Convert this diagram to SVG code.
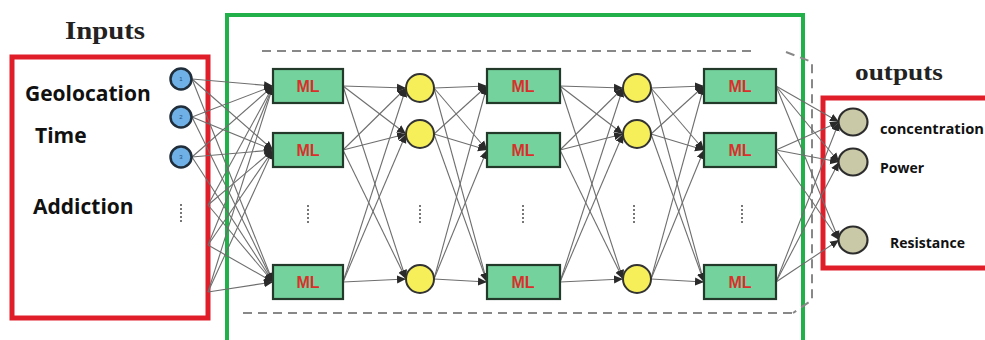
<svg xmlns="http://www.w3.org/2000/svg" width="985" height="340" viewBox="0 0 985 340">
<style>
.title{font-family:"Liberation Serif","DejaVu Serif",serif;font-weight:bold;fill:#222;}
.lbl{font-family:"Open Sans","Liberation Sans",sans-serif;font-weight:bold;fill:#111;}
.ml rect{fill:#74d29c;stroke:#233a2b;stroke-width:2.2;}
.ml text{font-family:"Liberation Sans",Arial,sans-serif;font-weight:bold;font-size:16px;fill:#d9302c;text-anchor:middle;}
.hid{fill:#f6ef5a;stroke:#333;stroke-width:2;}
.inp{fill:#6fb0e6;stroke:#1f2e3a;stroke-width:2.5;}
.inp-t{font-family:"Liberation Sans",sans-serif;font-size:6px;fill:#1f4f80;text-anchor:middle;}
.out{fill:#c9c9a8;stroke:#2c2c2c;stroke-width:2.2;}
.box-red{fill:none;stroke:#e01e2a;stroke-width:5;}
.box-green{fill:none;stroke:#22b04a;stroke-width:4;}
.dash{fill:none;stroke:#888;stroke-width:2;stroke-dasharray:9 6;}
.dots{stroke:#777;stroke-width:2;stroke-dasharray:2 2;}
#connectors line{stroke:#6e6e6e;stroke-width:1.1;marker-end:url(#arr);}
</style>
<defs>
<marker id="arr" markerUnits="userSpaceOnUse" markerWidth="10" markerHeight="10" refX="9" refY="5" orient="auto">
<path d="M0,1 L9,5 L0,9 Z" fill="#2a2a2a"/>
</marker>
</defs>
<rect width="985" height="340" fill="#ffffff"/>

<g id="frames">
<rect class="box-green" x="227" y="15" width="576" height="340"/>
<path class="dash" d="M262,51 H752"/>
<path class="dash" d="M243,313 H793"/>
<path class="dash" d="M786,52 L812,62 V300 L793,313"/>
<rect class="box-red" x="12" y="57" width="196" height="261"/>
<rect class="box-red" x="823" y="98" width="170" height="170"/>
<text class="title" x="65" y="39" font-size="25" textLength="80" lengthAdjust="spacingAndGlyphs">Inputs</text>
<text class="title" x="855" y="80" font-size="23" textLength="88" lengthAdjust="spacingAndGlyphs">outputs</text>
</g>

<g id="connectors">
<line x1="192" y1="79" x2="273" y2="86"/><line x1="192" y1="79" x2="273" y2="150"/><line x1="192" y1="79" x2="273" y2="282"/>
<line x1="192" y1="117" x2="273" y2="86"/><line x1="192" y1="117" x2="273" y2="150"/><line x1="192" y1="117" x2="273" y2="282"/>
<line x1="192" y1="157" x2="273" y2="86"/><line x1="192" y1="157" x2="273" y2="150"/><line x1="192" y1="157" x2="273" y2="282"/>
<line x1="208" y1="205" x2="273" y2="86"/><line x1="208" y1="205" x2="273" y2="150"/><line x1="208" y1="205" x2="273" y2="282"/>
<line x1="208" y1="245" x2="273" y2="86"/><line x1="208" y1="245" x2="273" y2="150"/><line x1="208" y1="245" x2="273" y2="282"/>
<line x1="208" y1="292" x2="273" y2="86"/><line x1="208" y1="292" x2="273" y2="150"/><line x1="208" y1="292" x2="273" y2="282"/>
<line x1="343" y1="86" x2="406" y2="88"/><line x1="343" y1="86" x2="406" y2="134"/><line x1="343" y1="86" x2="406" y2="279"/>
<line x1="343" y1="150" x2="406" y2="88"/><line x1="343" y1="150" x2="406" y2="134"/><line x1="343" y1="150" x2="406" y2="279"/>
<line x1="343" y1="282" x2="406" y2="88"/><line x1="343" y1="282" x2="406" y2="134"/><line x1="343" y1="282" x2="406" y2="279"/>
<line x1="434" y1="88" x2="487" y2="86"/><line x1="434" y1="88" x2="487" y2="150"/><line x1="434" y1="88" x2="487" y2="282"/>
<line x1="434" y1="134" x2="487" y2="86"/><line x1="434" y1="134" x2="487" y2="150"/><line x1="434" y1="134" x2="487" y2="282"/>
<line x1="434" y1="279" x2="487" y2="86"/><line x1="434" y1="279" x2="487" y2="150"/><line x1="434" y1="279" x2="487" y2="282"/>
<line x1="560" y1="86" x2="623" y2="88"/><line x1="560" y1="86" x2="623" y2="134"/><line x1="560" y1="86" x2="623" y2="279"/>
<line x1="560" y1="150" x2="623" y2="88"/><line x1="560" y1="150" x2="623" y2="134"/><line x1="560" y1="150" x2="623" y2="279"/>
<line x1="560" y1="282" x2="623" y2="88"/><line x1="560" y1="282" x2="623" y2="134"/><line x1="560" y1="282" x2="623" y2="279"/>
<line x1="651" y1="88" x2="704" y2="86"/><line x1="651" y1="88" x2="704" y2="150"/><line x1="651" y1="88" x2="704" y2="282"/>
<line x1="651" y1="134" x2="704" y2="86"/><line x1="651" y1="134" x2="704" y2="150"/><line x1="651" y1="134" x2="704" y2="282"/>
<line x1="651" y1="279" x2="704" y2="86"/><line x1="651" y1="279" x2="704" y2="150"/><line x1="651" y1="279" x2="704" y2="282"/>
<line x1="776" y1="86" x2="839" y2="122"/><line x1="776" y1="86" x2="839" y2="162"/><line x1="776" y1="86" x2="839" y2="240"/>
<line x1="776" y1="150" x2="839" y2="122"/><line x1="776" y1="150" x2="839" y2="162"/><line x1="776" y1="150" x2="839" y2="240"/>
<line x1="776" y1="282" x2="839" y2="122"/><line x1="776" y1="282" x2="839" y2="162"/><line x1="776" y1="282" x2="839" y2="240"/>
</g>

<g id="input-labels">
<text class="lbl" x="25" y="101" font-size="21">Geolocation</text>
<text class="lbl" x="35" y="143" font-size="21">Time</text>
<text class="lbl" x="33" y="214" font-size="21">Addiction</text>
</g>

<g id="in1"><circle class="inp" cx="181" cy="79" r="10.5"/><text class="inp-t" x="181" y="81">1</text></g>
<g id="in2"><circle class="inp" cx="181" cy="117" r="10.5"/><text class="inp-t" x="181" y="119">2</text></g>
<g id="in3"><circle class="inp" cx="181" cy="157" r="10.5"/><text class="inp-t" x="181" y="159">3</text></g>
<line class="dots" x1="181" y1="204" x2="181" y2="222"/>

<g id="ml1a" class="ml"><rect x="273" y="69" width="70" height="34"/><text x="308" y="92">ML</text></g>
<g id="ml1b" class="ml"><rect x="273" y="133" width="70" height="34"/><text x="308" y="156">ML</text></g>
<g id="ml1c" class="ml"><rect x="273" y="265" width="70" height="34"/><text x="308" y="288">ML</text></g>
<line class="dots" x1="308" y1="205" x2="308" y2="223"/>

<g id="h1a"><circle class="hid" cx="420" cy="88" r="14"/></g>
<g id="h1b"><circle class="hid" cx="420" cy="134" r="14"/></g>
<g id="h1c"><circle class="hid" cx="420" cy="279" r="14"/></g>
<line class="dots" x1="420" y1="205" x2="420" y2="223"/>

<g id="ml2a" class="ml"><rect x="487" y="69" width="73" height="34"/><text x="523" y="92">ML</text></g>
<g id="ml2b" class="ml"><rect x="487" y="133" width="73" height="34"/><text x="523" y="156">ML</text></g>
<g id="ml2c" class="ml"><rect x="487" y="265" width="73" height="34"/><text x="523" y="288">ML</text></g>
<line class="dots" x1="523" y1="205" x2="523" y2="223"/>

<g id="h2a"><circle class="hid" cx="637" cy="88" r="14"/></g>
<g id="h2b"><circle class="hid" cx="637" cy="134" r="14"/></g>
<g id="h2c"><circle class="hid" cx="637" cy="279" r="14"/></g>
<line class="dots" x1="634" y1="205" x2="634" y2="223"/>

<g id="ml3a" class="ml"><rect x="704" y="69" width="72" height="34"/><text x="740" y="92">ML</text></g>
<g id="ml3b" class="ml"><rect x="704" y="133" width="72" height="34"/><text x="740" y="156">ML</text></g>
<g id="ml3c" class="ml"><rect x="704" y="265" width="72" height="34"/><text x="740" y="288">ML</text></g>
<line class="dots" x1="742" y1="205" x2="742" y2="223"/>

<g id="out1"><ellipse class="out" cx="853" cy="122" rx="14.5" ry="13.5"/><text class="lbl" x="880" y="134" font-size="13.5" textLength="104" lengthAdjust="spacingAndGlyphs">concentration</text></g>
<g id="out2"><ellipse class="out" cx="853" cy="162" rx="14.5" ry="13.5"/><text class="lbl" x="880" y="173" font-size="14">Power</text></g>
<g id="out3"><ellipse class="out" cx="853" cy="240" rx="14.5" ry="13.5"/><text class="lbl" x="890" y="248" font-size="14">Resistance</text></g>
</svg>
